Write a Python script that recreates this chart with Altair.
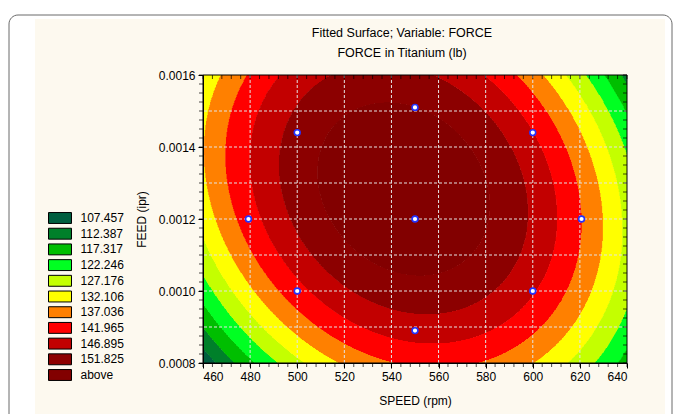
import numpy as np
import pandas as pd
import altair as alt

# ---------------- data ----------------
level_values = [107.457, 112.387, 117.317, 122.246, 127.176, 132.106,
                137.036, 141.965, 146.895, 151.825]
level_labels = ["107.457", "112.387", "117.317", "122.246", "127.176", "132.106",
                "137.036", "141.965", "146.895", "151.825", "above"]
level_colors = ["#005f3f", "#00802a", "#00be00", "#00ff22", "#c4ff00", "#ffff00",
                "#ff8000", "#ff0000", "#c20000", "#8c0000", "#820000"]

# fitted quadratic surface in coded units u=(SPEED-550)/50, t=(FEED-0.0012)/0.0004
speed_center, speed_half = 550.0, 50.0
feed_center, feed_half = 0.0012, 0.0004
coef_names = ["const", "u", "t", "u2", "t2", "ut"]
coef_values = [155.78, -0.875, 5.0, -8.75, -12.96, -4.03]

# experimental design points
design_speed = [550, 500, 600, 500, 600, 479.3, 620.7, 550, 550]
design_feed = [0.0012, 0.0010, 0.0010, 0.00144, 0.00144, 0.0012, 0.0012, 0.00089, 0.00151]

x_major = [460, 480, 500, 520, 540, 560, 580, 600, 620, 640]
y_major = [0.0008, 0.0009, 0.0010, 0.0011, 0.0012, 0.0013, 0.0014, 0.0015, 0.0016]

# ---------------- surface grid (run-length rects) ----------------
W, H = 424, 288
x_lo, x_hi = 460.0, 640.0
y_lo, y_hi = 0.0008, 0.0016
nx, ny = 720, 288
xe = np.linspace(x_lo, x_hi, nx + 1)
xc = (xe[:-1] + xe[1:]) / 2
ye = np.linspace(y_lo, y_hi, ny + 1)
yc = (ye[:-1] + ye[1:]) / 2
dy = ye[1] - ye[0]
c = dict(zip(coef_names, coef_values))
cells = []
for j in range(ny):
    u = (xc - speed_center) / speed_half
    t = (yc[j] - feed_center) / feed_half
    f = (c["const"] + c["u"] * u + c["t"] * t + c["u2"] * u * u
         + c["t2"] * t * t + c["ut"] * u * t)
    band = np.searchsorted(level_values, f, side="left")
    start = 0
    for i in range(1, nx + 1):
        if i == nx or band[i] != band[start]:
            cells.append({
                "s0": round(float(xe[start]), 3),
                "s1": round(float(min(xe[i] + 0.15, x_hi)), 3),
                "f0": round(float(ye[j]), 8),
                "f1": round(float(min(ye[j + 1] + 0.3 * dy, y_hi)), 8),
                "band": level_labels[int(band[start])],
            })
            start = i
cells = pd.DataFrame(cells)

FONT = "Liberation Sans"
xscale = alt.Scale(domain=[x_lo, x_hi], nice=False, zero=False)
yscale = alt.Scale(domain=[y_lo, y_hi], nice=False, zero=False)
one = pd.DataFrame({"k": [0]})

# page decoration: beige panel and rounded frame
panel = alt.Chart(one).mark_rect(fill="#fdf9ef", stroke=None).encode(
    x=alt.value(35 - 203), x2=alt.value(665 - 203),
    y=alt.value(19 - 75), y2=alt.value(414 - 75))
frame = alt.Chart(one).mark_rect(fill=None, stroke="#6a6a6a", strokeWidth=1,
                                 cornerRadius=9).encode(
    x=alt.value(9 - 203), x2=alt.value(672 - 203),
    y=alt.value(15 - 75), y2=alt.value(440 - 75))

heat = alt.Chart(cells).mark_rect(strokeWidth=0).encode(
    x=alt.X("s0:Q", scale=xscale, title="SPEED (rpm)",
            axis=alt.Axis(values=x_major, grid=False, tickSize=5, tickColor="black",
                          domainColor="black", labelFont=FONT, labelFontSize=12,
                          labelColor="black", labelPadding=3, titleFont=FONT,
                          titleFontSize=12, titleFontWeight="normal", titleColor="black",
                          titlePadding=13, zindex=1)),
    x2="s1:Q",
    y=alt.Y("f0:Q", scale=yscale, title="FEED (ipr)",
            axis=alt.Axis(values=y_major, format=".4f", grid=False, tickSize=5,
                          tickColor="black", domainColor="black", labelFont=FONT,
                          labelFontSize=12, labelColor="black", labelPadding=3,
                          titleFont=FONT, titleFontSize=12, titleFontWeight="normal",
                          titleColor="black", titlePadding=10, zindex=1)),
    y2="f1:Q",
    color=alt.Color("band:N",
                    scale=alt.Scale(domain=level_labels, range=level_colors),
                    legend=alt.Legend(title=None, orient="none", legendX=-149.5,
                                      legendY=136.5, padding=0,
                                      symbolType="M-2,-0.95H2V0.95H-2Z", symbolSize=132,
                                      symbolStrokeColor="black", symbolStrokeWidth=1,
                                      symbolOpacity=1, rowPadding=0.7, labelOffset=14,
                                      labelFont=FONT, labelFontSize=12,
                                      labelColor="black", zindex=1)),
)

gx = pd.DataFrame({"v": x_major[1:-1]})
gy = pd.DataFrame({"v": y_major[1:-1]})
grid_x = alt.Chart(gx).mark_rule(strokeDash=[3, 2], color="#e4e4e4", strokeWidth=1).encode(
    x=alt.X("v:Q", scale=xscale, title="SPEED (rpm)"))
grid_y = alt.Chart(gy).mark_rule(strokeDash=[3, 2], color="#e4e4e4", strokeWidth=1).encode(
    y=alt.Y("v:Q", scale=yscale, title="FEED (ipr)"))

xm = pd.DataFrame({"v": list(np.arange(460, 641, 4))})
ym = pd.DataFrame({"v": [round(0.0008 + 0.000025 * i, 6) for i in range(33)]})
tick_b = alt.Chart(xm).mark_tick(orient="vertical", size=4, thickness=1, color="black").encode(
    x=alt.X("v:Q", scale=xscale, title="SPEED (rpm)"), y=alt.value(H + 2))
tick_t = alt.Chart(xm).mark_tick(orient="vertical", size=4, thickness=1, color="black").encode(
    x=alt.X("v:Q", scale=xscale, title="SPEED (rpm)"), y=alt.value(2))
tick_l = alt.Chart(ym).mark_tick(orient="horizontal", size=4, thickness=1, color="black").encode(
    y=alt.Y("v:Q", scale=yscale, title="FEED (ipr)"), x=alt.value(-2))
tick_r = alt.Chart(ym).mark_tick(orient="horizontal", size=4, thickness=1, color="black").encode(
    y=alt.Y("v:Q", scale=yscale, title="FEED (ipr)"), x=alt.value(W - 2))

border = alt.Chart(one).mark_rect(fill=None, stroke="black", strokeWidth=1).encode(
    x=alt.value(0), x2=alt.value(W), y=alt.value(0), y2=alt.value(H))

pts = pd.DataFrame({"speed": design_speed, "feed": design_feed})
points = alt.Chart(pts).mark_circle(size=34, fill="white", stroke="#2233ff",
                                    strokeWidth=1.6, opacity=1).encode(
    x=alt.X("speed:Q", scale=xscale, title="SPEED (rpm)"),
    y=alt.Y("feed:Q", scale=yscale, title="FEED (ipr)"))

chart = alt.layer(panel, frame, heat, grid_x, grid_y, tick_b, tick_t, tick_l, tick_r,
                  border, points).properties(
    width=W, height=H,
    autosize=alt.AutoSizeParams(type="none"),
    padding={"left": 203, "top": 75, "right": 52, "bottom": 51},
    title=alt.Title(["Fitted Surface; Variable: FORCE", "FORCE in Titanium (lb)"],
                    font=FONT, fontSize=12.5, fontWeight="normal", color="black",
                    lineHeight=20, anchor="middle", dx=-13, dy=44.5, offset=0, zindex=1),
).configure_view(stroke=None).configure(background="white")

chart.save("out.html", embed_options={"renderer": "svg", "actions": False})
